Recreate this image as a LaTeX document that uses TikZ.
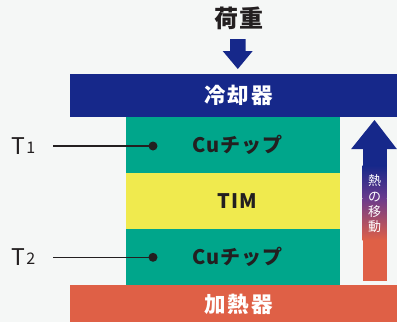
\documentclass[tikz,border=0pt]{standalone}
\usepackage{fontspec}
\setmainfont{Noto Sans CJK JP}
\definecolor{bg}{HTML}{F5F7F6}
\definecolor{cool}{HTML}{16288A}
\definecolor{cu}{HTML}{00A68B}
\definecolor{tim}{HTML}{F0EA4E}
\definecolor{heat}{HTML}{DF6046}
\definecolor{purp}{HTML}{6A3A8C}
\definecolor{txt}{HTML}{231F20}
\begin{document}
\begin{tikzpicture}[x=1pt,y=-1pt,
  box/.style={draw=none,inner sep=0pt,outer sep=0pt,anchor=north west},
  lbl/.style={inner sep=0pt,font=\bfseries\fontsize{20}{20}\selectfont\addfontfeature{LetterSpace=6}},
  jlbl/.style={inner sep=0pt,font=\bfseries\fontsize{21.5}{21.5}\selectfont\addfontfeature{LetterSpace=9}},
  tlbl/.style={inner sep=0pt,anchor=west,text=txt},
  dot/.style={circle,fill=txt,inner sep=0pt,minimum size=9pt},
  lead/.style={draw=txt,line width=1.3pt}]
\useasboundingbox (0,0) rectangle (397,322);
\fill[bg] (0,0) rectangle (397,322);
% boxes
\node[box,fill=cool,minimum width=327pt,minimum height=43pt] (cooler) at (70,74) {};
\node[box,fill=cu,minimum width=214pt,minimum height=56pt] (cu1) at (126,117) {};
\node[box,fill=tim,minimum width=214pt,minimum height=56pt] (timb) at (126,173) {};
\node[box,fill=cu,minimum width=214pt,minimum height=56pt] (cu2) at (126,229) {};
\node[box,fill=heat,minimum width=327pt,minimum height=37pt] (heater) at (70,285) {};
% labels
\node[jlbl,text=white] (coolt) at ([xshift=5pt]cooler.center) {冷却器};
\node[lbl,text=txt] (cu1t) at ([xshift=4.5pt]cu1.center) {Cuチップ};
\node[lbl,text=txt] (timt) at ([xshift=4pt]timb.center) {TIM};
\node[lbl,text=txt] (cu2t) at ([xshift=4.5pt]cu2.center) {Cuチップ};
\node[jlbl,text=white] (heatt) at (238.5,304) {加熱器};
% load
\node[inner sep=0pt,text=txt,font=\bfseries\fontsize{24}{24}\selectfont\addfontfeature{LetterSpace=8}] (load) at (239,18.5) {荷重};
\fill[cool] (230,39) -- (245.7,39) -- (245.7,51) -- (252.7,51) -- (237.8,69) -- (222.7,51) -- (230,51) -- cycle;
% T labels
\node[tlbl] (t1) at (11,146.5) {\fontsize{23}{23}\selectfont T\hspace{1.5pt}\raisebox{1.5pt}{\fontsize{16}{16}\selectfont 1}};
\node[tlbl] (t2) at (11,257.5) {\fontsize{23}{23}\selectfont T\hspace{1.5pt}\raisebox{1.5pt}{\fontsize{16}{16}\selectfont 2}};
\coordinate (l1) at (53,146);
\coordinate (l2) at (53,257.3);
\node[dot] (d1) at (153,146) {};
\node[dot] (d2) at (153,257.3) {};
\draw[lead] (l1) -- (d1.center);
\draw[lead] (l2) -- (d2.center);
% heat flow arrow
\fill[cool] (351,149.2) -- (374.5,120) -- (397,149.2) -- cycle;
\fill[cool] (362.7,148.8) rectangle (386.7,166);
\shade[top color=cool,bottom color=purp] (362.7,165.5) rectangle (386.7,198.5);
\shade[top color=purp,bottom color=heat] (362.7,198) rectangle (386.7,240.5);
\fill[heat] (362.7,240) rectangle (386.7,281);
\node[inner sep=0pt,text=white,align=center,font=\fontsize{13}{15.3}\selectfont] (flow) at (374.7,204) {熱\\の\\移\\動};
\end{tikzpicture}
\end{document}
